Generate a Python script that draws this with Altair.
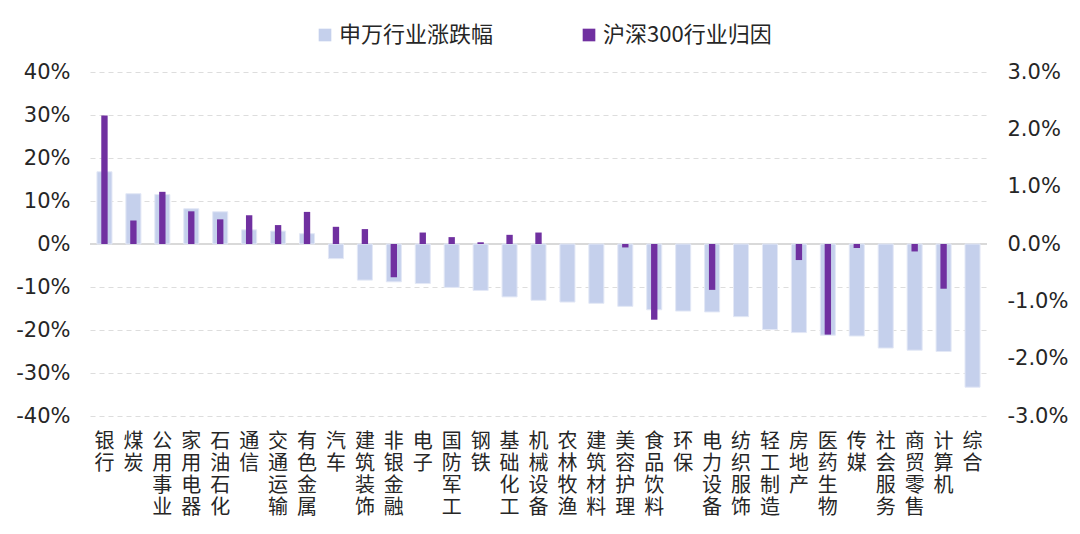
import altair as alt
import pandas as pd

categories = ["银行","煤炭","公用事业","家用电器","石油石化","通信","交通运输","有色金属","汽车","建筑装饰",
              "非银金融","电子","国防军工","钢铁","基础化工","机械设备","农林牧渔","建筑材料","美容护理","食品饮料",
              "环保","电力设备","纺织服饰","轻工制造","房地产","医药生物","传媒","社会服务","商贸零售","计算机","综合"]
sw_change = [16.8, 11.7, 11.5, 8.2, 7.5, 3.3, 3.0, 2.4, -3.4, -8.4,
             -8.8, -9.2, -10.1, -10.8, -12.3, -13.1, -13.5, -13.8, -14.5, -15.3,
             -15.6, -15.8, -16.9, -19.9, -20.6, -21.2, -21.4, -24.2, -24.7, -25.0, -33.3]
hs300_attr = [2.24, 0.41, 0.91, 0.57, 0.43, 0.50, 0.33, 0.56, 0.30, 0.26,
              -0.58, 0.20, 0.12, 0.03, 0.16, 0.20, 0.0, 0.0, -0.06, -1.32,
              0.0, -0.80, 0.0, 0.0, -0.28, -1.58, -0.07, 0.0, -0.13, -0.78, 0.0]
series_names = ["申万行业涨跌幅", "沪深300行业归因"]
series_colors = ["#C5D0EC", "#7030A0"]
left_ticks = [-40, -30, -20, -10, 0, 10, 20, 30, 40]
right_ticks = [-3, -2, -1, 0, 1, 2, 3]

df = pd.DataFrame({"cat": categories, "sw": sw_change, "hs": hs300_attr})
df["s_sw"] = series_names[0]
df["s_hs"] = series_names[1]

FONT_NUM = "DejaVu Sans"
FONT_CJK = "Noto Sans CJK SC"

x_enc = alt.X("cat:N", sort=categories, title=None,
              scale=alt.Scale(paddingInner=0.0, paddingOuter=0.0),
              axis=alt.Axis(orient="bottom", labelAngle=0, labelExpr="split(datum.label, '')",
                            labelFont=FONT_CJK, labelFontSize=20, labelLineHeight=22.3,
                            labelColor="#262626", labelPadding=15, labelBaseline="top",
                            ticks=False, domain=False, grid=False, labelOverlap=False))

color_scale = alt.Scale(domain=series_names, range=series_colors)
legend = alt.Legend(title=None, orient="none", direction="horizontal", legendX=224, legendY=-48,
                    symbolType="square", symbolSize=160, labelFont=FONT_CJK, labelFontSize=22,
                    labelColor="#262626", columnPadding=84, labelOffset=3,
                    symbolStrokeWidth=0, labelLimit=300)

zero_rule = alt.Chart(df).mark_rule(color="#D9D9D9", strokeWidth=2).encode(
    y=alt.datum(0)
)

blue = alt.Chart(df).mark_bar(width={"band": 0.52}, stroke="#E3E8F6", strokeWidth=1).encode(
    x=x_enc,
    y=alt.Y("sw:Q", title=None,
            scale=alt.Scale(domain=[-40, 40], nice=False),
            axis=alt.Axis(orient="left", values=left_ticks, labelExpr="datum.value + '%'",
                          labelFont=FONT_NUM, labelFontSize=21, labelColor="#262626",
                          labelPadding=20, ticks=False, domain=False,
                          grid=True, gridDash=[5, 4], gridColor="#DDDDDD", gridWidth=1)),
    color=alt.Color("s_sw:N", scale=color_scale, legend=legend),
)

left = alt.layer(zero_rule, blue)

purple = alt.Chart(df).mark_bar(width={"band": 0.22}).encode(
    x=x_enc,
    y=alt.Y("hs:Q", title=None,
            scale=alt.Scale(domain=[-3, 3], nice=False),
            axis=alt.Axis(orient="right", values=right_ticks,
                          labelExpr="(datum.value < 0 ? '-' : '') + format(abs(datum.value), '.1f') + '%'",
                          labelFont=FONT_NUM, labelFontSize=21, labelColor="#262626",
                          labelPadding=20, labelAlign="left", ticks=False, domain=False, grid=False)),
    color=alt.Color("s_hs:N", scale=color_scale, legend=legend),
)

chart = alt.layer(left, purple).resolve_scale(y="independent").properties(
    width=897, height=344,
    background="white",
    autosize=alt.AutoSizeParams(type="none"),
    padding={"left": 82, "top": 64, "right": 84, "bottom": 104},
).configure_view(stroke=None, strokeWidth=0).configure_axis(domain=False, ticks=False)

chart.save("out.html", embed_options={"renderer": "svg", "actions": False})
